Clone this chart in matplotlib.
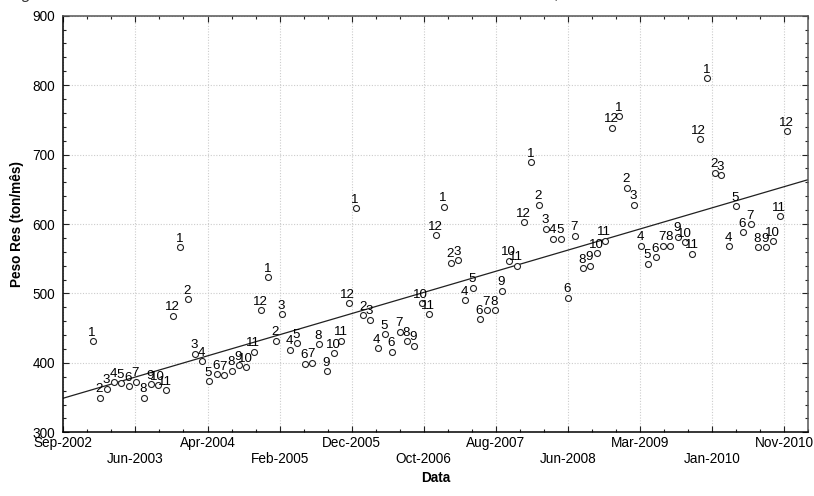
import numpy as np
import matplotlib
matplotlib.use("Agg")
import matplotlib.pyplot as plt
import matplotlib.dates as mdates
from matplotlib.ticker import MultipleLocator, FixedLocator
import datetime as dt

plt.rcParams['font.family'] = ['Liberation Sans', 'DejaVu Sans']

# Monthly waste weight (ton/month), Jan-2003 .. Dec-2010
years = [2003, 2004, 2005, 2006, 2007, 2008, 2009, 2010]
peso_2003 = [431, 350, 363, 372, 371, 366, 373, 350, 369, 368, 361, 468]
peso_2004 = [567, 492, 413, 402, 374, 384, 382, 389, 397, 394, 416, 476]
peso_2005 = [523, 432, 470, 419, 428, 399, 400, 427, 388, 414, 432, 486]
peso_2006 = [623, 469, 462, 421, 441, 416, 445, 431, 425, 486, 470, 584]
peso_2007 = [625, 544, 548, 490, 508, 463, 476, 476, 504, 547, 540, 603]
peso_2008 = [689, 628, 593, 579, 579, 494, 583, 536, 540, 558, 576, 739]
peso_2009 = [755, 652, 628, 569, 543, 552, 569, 569, 582, 574, 557, 722]
peso_2010 = [810, 674, 670, 568, 626, 588, 600, 567, 567, 575, 611, 734]

tick_labels = ["Sep-2002", "Jun-2003", "Apr-2004", "Feb-2005", "Dec-2005",
               "Oct-2006", "Aug-2007", "Jun-2008", "Mar-2009", "Jan-2010",
               "Nov-2010"]

series = [peso_2003, peso_2004, peso_2005, peso_2006,
          peso_2007, peso_2008, peso_2009, peso_2010]

dates, values, months = [], [], []
for yr, vals in zip(years, series):
    for m, v in enumerate(vals, start=1):
        dates.append(dt.date(yr, m, 1))
        values.append(v)
        months.append(m)

x = mdates.date2num(dates)
y = np.array(values, dtype=float)

# axis ticks every 300 days starting on 1 Sep 2002
t0 = mdates.date2num(dt.date(2002, 9, 1))
tick_pos = t0 + 300 * np.arange(len(tick_labels))
x_max = t0 + 3100

fig = plt.figure(figsize=(8.14, 4.96), dpi=100)
ax = fig.add_axes([0.0778, 0.1284, 0.9152, 0.8399])

# cut-off caption line above the chart
fig.text(22 / 814, 1.0 + 1.5 / 496, "g", fontsize=12, style='italic',
         va='baseline', ha='left', color='#333333')
fig.text(555 / 814, 1.0 + 1.5 / 496, ",", fontsize=12, style='italic',
         va='baseline', ha='left', color='#333333')

# grid
ax.set_axisbelow(True)
ax.grid(True, which='major', color='#cccccc', linestyle=(0, (1, 1.5)), linewidth=0.8)

# linear trend
coef = np.polyfit(x, y, 1)
xl = np.array([t0, x_max])
ax.plot(xl, np.polyval(coef, xl), color='#202020', linewidth=0.9, zorder=2)

# points
ax.plot(x, y, linestyle='none', marker='o', markersize=4.3,
        markerfacecolor='white', markeredgecolor='#222222',
        markeredgewidth=0.8, zorder=3)

for xi, yi, m in zip(x, y, months):
    ax.annotate(str(m), (xi, yi), xytext=(-0.6, 3.9), textcoords='offset points',
                ha='center', va='baseline', fontsize=9.6, color='black', zorder=4)

ax.set_xlim(t0, x_max)
ax.set_ylim(300, 900)

ax.xaxis.set_major_locator(FixedLocator(tick_pos))
ax.set_xticklabels([lab if i % 2 == 0 else "\n" + lab
                    for i, lab in enumerate(tick_labels)])
ax.xaxis.set_minor_locator(FixedLocator(
    np.concatenate([tick_pos[:-1] + 100, tick_pos[:-1] + 200, [tick_pos[-1] + 100]])))
ax.yaxis.set_major_locator(MultipleLocator(100))
ax.yaxis.set_minor_locator(MultipleLocator(20))

ax.tick_params(which='both', direction='in', top=True, right=True,
               labelsize=9.8, colors='#222222')
ax.tick_params(which='major', length=4, width=0.8)
ax.tick_params(which='minor', length=2.5, width=0.8)
ax.tick_params(axis='x', pad=3)
ax.tick_params(axis='y', pad=6)
for lab in ax.get_xticklabels():
    lab.set_linespacing(1.1)
for lab in ax.get_xticklabels() + ax.get_yticklabels():
    lab.set_color('black')

for s in ['left', 'bottom']:
    ax.spines[s].set_color('black')
    ax.spines[s].set_linewidth(1.1)
for s in ['top', 'right']:
    ax.spines[s].set_color('#555555')
    ax.spines[s].set_linewidth(1.1)

ax.set_xlabel("Data", fontsize=9.8, fontweight='bold', labelpad=4)
ax.set_ylabel("Peso Res (ton/mês)", fontsize=9.8, fontweight='bold', labelpad=6)

fig.savefig("out.png", dpi=100)
